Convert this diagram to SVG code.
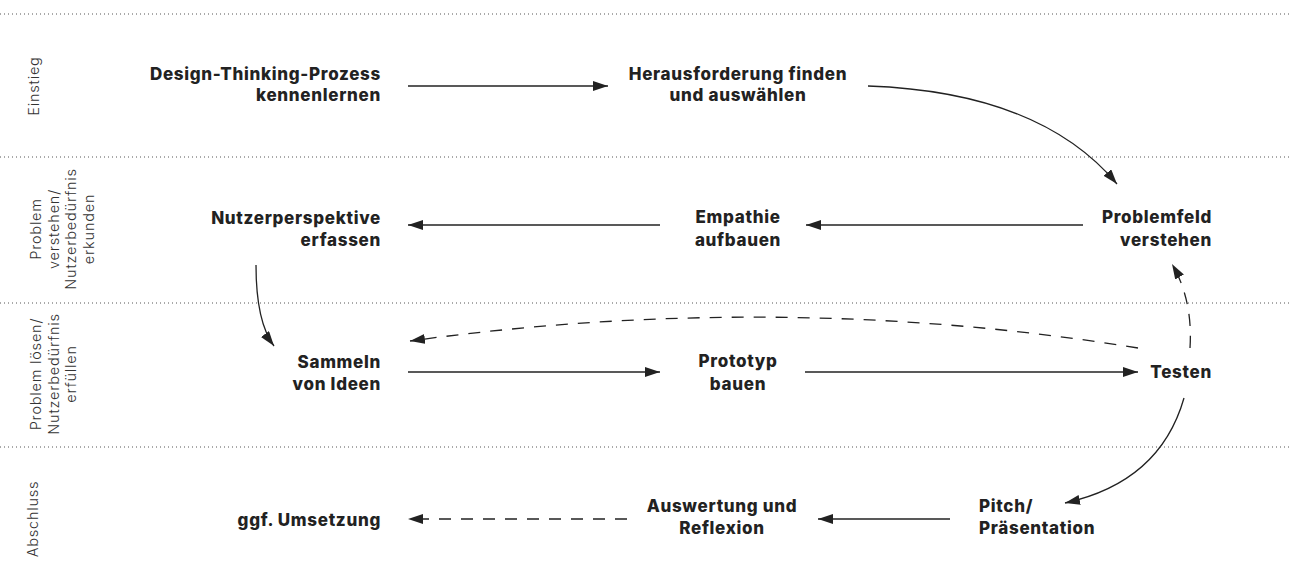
<svg xmlns="http://www.w3.org/2000/svg" width="1292" height="583" viewBox="0 0 1292 583">
<defs>
<marker id="ah" markerUnits="userSpaceOnUse" markerWidth="16" markerHeight="12" refX="15" refY="5" orient="auto">
<path d="M0,0 L15,5 L0,10 z" fill="#222"/>
</marker>
<style>
.sep{stroke:#555;stroke-width:1;stroke-dasharray:1 3;fill:none}
.lane{font-family:Inter,"Liberation Sans",sans-serif;font-size:14.5px;fill:#333;font-weight:300;letter-spacing:0.8px}
.node{font-family:Inter,"Liberation Sans",sans-serif;font-size:17px;font-weight:800;fill:#222;letter-spacing:0.7px}
.c{stroke:#222;stroke-width:1.3;fill:none;marker-end:url(#ah)}
.d{stroke-dasharray:12 10}
</style>
</defs>
<rect width="1292" height="583" fill="#fff"/>
<g id="separators">
<line class="sep" x1="0" y1="14" x2="1292" y2="14"/>
<line class="sep" x1="0" y1="157" x2="1292" y2="157"/>
<line class="sep" x1="0" y1="303" x2="1292" y2="303"/>
<line class="sep" x1="0" y1="447" x2="1292" y2="447"/>
</g>
<g id="lanes">
<text class="lane" transform="translate(39,86) rotate(-90)" text-anchor="middle">Einstieg</text>
<text class="lane" transform="translate(41,229) rotate(-90)" text-anchor="middle">Problem<tspan x="0" dy="17.7">verstehen/</tspan><tspan x="0" dy="17.7">Nutzerbedürfnis</tspan><tspan x="0" dy="17.7">erkunden</tspan></text>
<text class="lane" transform="translate(41,374) rotate(-90)" text-anchor="middle">Problem lösen/<tspan x="0" dy="17.7">Nutzerbedürfnis</tspan><tspan x="0" dy="17.7">erfüllen</tspan></text>
<text class="lane" transform="translate(38,519) rotate(-90)" text-anchor="middle">Abschluss</text>
</g>
<g id="n1"><text class="node" text-anchor="end"><tspan x="381" y="80">Design-Thinking-Prozess</tspan><tspan x="381" y="101">kennenlernen</tspan></text></g>
<g id="n2"><text class="node" text-anchor="middle"><tspan x="738" y="80">Herausforderung finden</tspan><tspan x="738" y="101">und auswählen</tspan></text></g>
<g id="n3"><text class="node" text-anchor="end"><tspan x="1212" y="223">Problemfeld</tspan><tspan x="1212" y="246">verstehen</tspan></text></g>
<g id="n4"><text class="node" text-anchor="middle"><tspan x="738" y="223">Empathie</tspan><tspan x="738" y="246">aufbauen</tspan></text></g>
<g id="n5"><text class="node" text-anchor="end"><tspan x="381" y="224">Nutzerperspektive</tspan><tspan x="381" y="246">erfassen</tspan></text></g>
<g id="n6"><text class="node" text-anchor="end"><tspan x="381" y="368">Sammeln</tspan><tspan x="381" y="390">von Ideen</tspan></text></g>
<g id="n7"><text class="node" text-anchor="middle"><tspan x="738" y="367">Prototyp</tspan><tspan x="738" y="390">bauen</tspan></text></g>
<g id="n8"><text class="node" text-anchor="end" x="1212" y="378">Testen</text></g>
<g id="n9"><text class="node"><tspan x="979" y="512">Pitch/</tspan><tspan x="979" y="534">Präsentation</tspan></text></g>
<g id="n10"><text class="node" text-anchor="middle"><tspan x="722" y="512">Auswertung und</tspan><tspan x="722" y="534">Reflexion</tspan></text></g>
<g id="n11"><text class="node" text-anchor="end" x="381" y="526">ggf. Umsetzung</text></g>
<g id="connectors">
<line class="c" x1="408" y1="86" x2="608" y2="86"/>
<path class="c" d="M868,86 Q1040,92 1117,184"/>
<line class="c" x1="1083" y1="225" x2="806" y2="225"/>
<line class="c" x1="660" y1="225" x2="408" y2="225"/>
<path class="c" d="M256,265 Q256,322 274,346"/>
<line class="c" x1="408" y1="372" x2="660" y2="372"/>
<line class="c" x1="805" y1="372" x2="1138" y2="372"/>
<path class="c d" d="M1138,348 Q780,290 410,341"/>
<path class="c d" d="M1190,348 Q1193,300 1172,264"/>
<path class="c" d="M1184,398 Q1160,482 1065,503"/>
<line class="c" x1="950" y1="519" x2="818" y2="519"/>
<line class="c d" x1="627" y1="519" x2="408" y2="519"/>
</g>
</svg>
